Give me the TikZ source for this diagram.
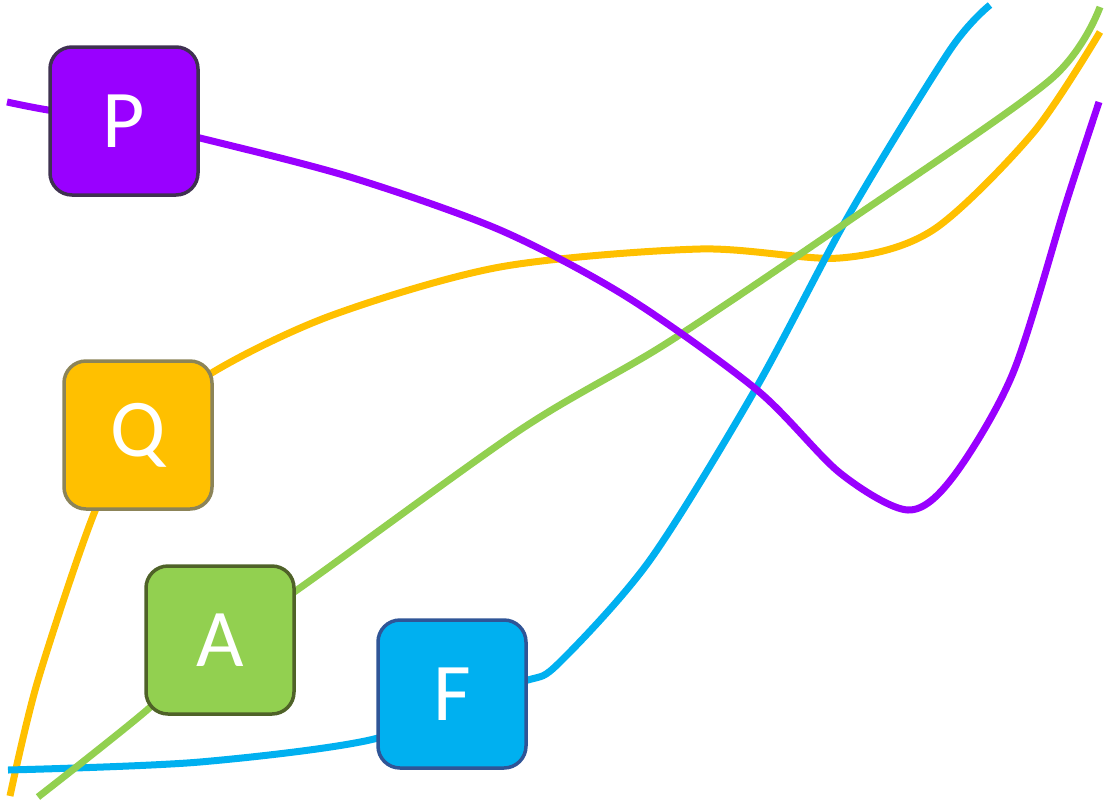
\documentclass[tikz,border=0pt]{standalone}
\usepackage{fontspec}
\setmainfont{Carlito}
\usetikzlibrary{backgrounds}
\definecolor{cP}{HTML}{9900FF}
\definecolor{cPb}{HTML}{3F3151}
\definecolor{cQ}{HTML}{FFC000}
\definecolor{cQb}{HTML}{8C8458}
\definecolor{cA}{HTML}{92D050}
\definecolor{cAb}{HTML}{4F6228}
\definecolor{cF}{HTML}{00B0F0}
\definecolor{cFb}{HTML}{2F5597}
\tikzset{
  box/.style={rectangle, rounded corners=22pt, line width=3.5pt, minimum width=148pt, minimum height=148pt, inner sep=0pt, text=white, font=\fontsize{82}{90}\selectfont},
  wire/.style={line width=7pt},
}
\begin{document}
\begin{tikzpicture}[x=1pt,y=-1pt]
\useasboundingbox (0,0) rectangle (1109,804);
\node[box, draw=cPb, fill=cP] (P) at (124,121) {P};
\node[box, draw=cQb, fill=cQ] (Q) at (138,435) {Q};
\node[box, draw=cAb, fill=cA] (A) at (220,640) {A};
\node[box, draw=cFb, fill=cF] (F) at (452,694) {F};
\coordinate (pS) at (7,102);
\coordinate (pE) at (1099,102);
\coordinate (yS) at (10,796);
\coordinate (yE) at (1100,32);
\coordinate (gS) at (38,797);
\coordinate (gE) at (1100,7);
\coordinate (bS) at (8,770);
\coordinate (bE) at (990,5);
\begin{scope}[on background layer]
\draw[wire, cQ] plot[smooth] coordinates {(yS) (38,680) (95,511) (Q.center) (210,374) (330,316) (500,267) (700,249) (840,258) (933,230) (1033,133) (yE)};
\draw[wire, cF] plot[smooth] coordinates {(bS) (200,762) (378,738) (F.center) (528,680) (560,662) (650,560) (755,390) (850,213) (950,50) (bE)};
\draw[wire, cA] plot[smooth] coordinates {(gS) (147,710) (A.center) (297,590) (520,430) (667,343) (850,220) (1050,80) (gE)};
\draw[wire, cP] plot[smooth] coordinates {(pS) (48,110) (P.center) (200,138) (350,177) (500,230) (627,297) (757,390) (840,473) (908,510) (953,477) (1013,373) (1067,200) (pE)};
\end{scope}
\end{tikzpicture}
\end{document}
